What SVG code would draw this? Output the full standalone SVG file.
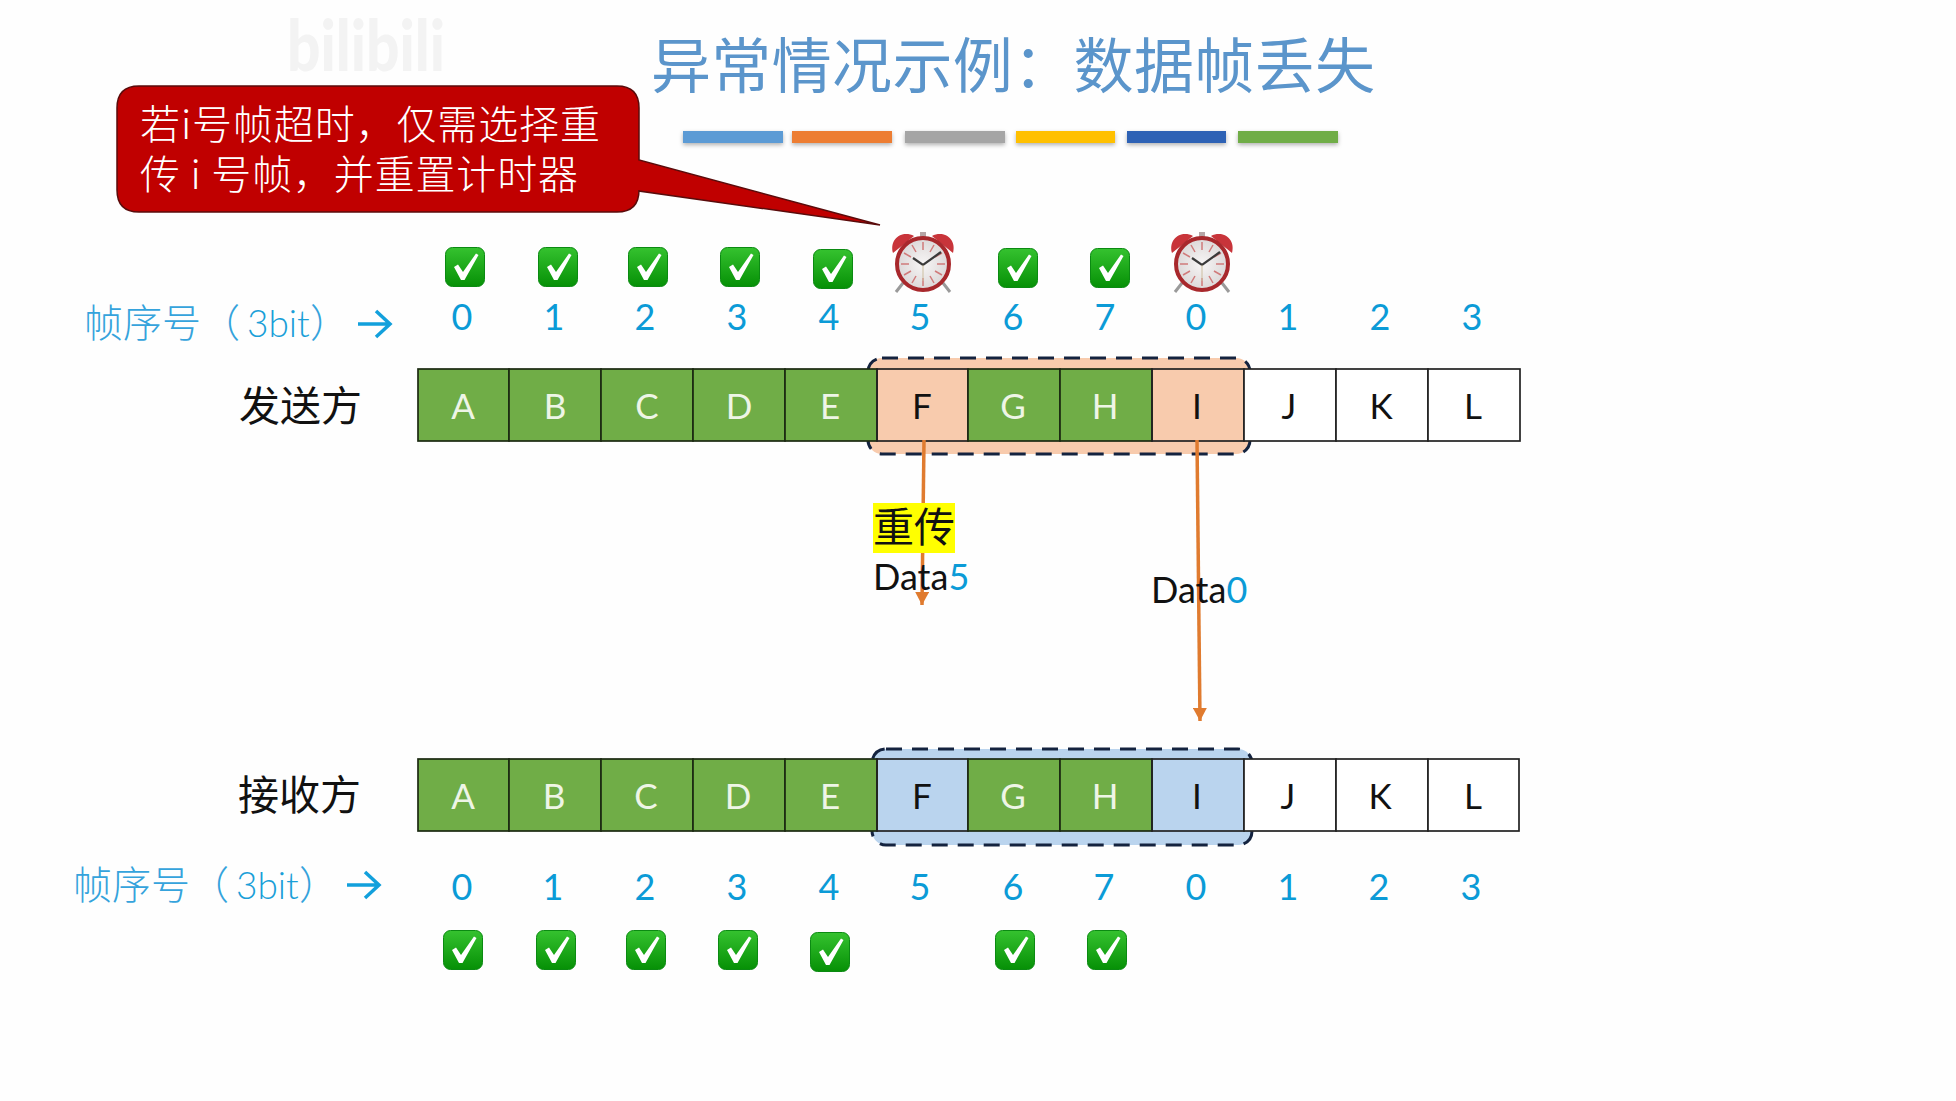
<svg xmlns="http://www.w3.org/2000/svg" width="1956" height="1101" viewBox="0 0 1956 1101">
<style>
text{font-family:Lato,"Noto Sans","Noto Sans CJK SC",sans-serif}
.cjk{font-family:"Noto Sans CJK SC","Noto Sans",sans-serif;font-weight:300}
.lat{font-family:Lato,"Noto Sans",sans-serif;fill:#1a9fd8}
.num{font-size:36px;fill:#0b9bd7;text-anchor:middle}
.cl{font-size:35px;text-anchor:middle;fill:#111}
.cw{font-size:35px;text-anchor:middle;fill:#eef5e6}
.green{fill:#70ad47;stroke:#1c2a12;stroke-width:1.700}
.white{fill:#fff;stroke:#222;stroke-width:1.700}
.clear{fill:none;stroke:#222;stroke-width:1.700}
.dash{stroke:#14233f;stroke-width:3;stroke-dasharray:16 10}
.arr{stroke:#e07b2f;stroke-width:3.500;fill:none}
.bar{filter:url(#sh)}
</style>
<defs>
<filter id="sh" x="-5%" y="-50%" width="110%" height="220%"><feDropShadow dx="0" dy="2" stdDeviation="2" flood-color="#000" flood-opacity=".3"/></filter>
<linearGradient id="gg" x1="0" y1="0" x2="0" y2="1"><stop offset="0" stop-color="#35c22f"/><stop offset="1" stop-color="#069006"/></linearGradient>
<radialGradient id="face"><stop offset="0" stop-color="#f7f5f5"/><stop offset="1" stop-color="#dcd8d8"/></radialGradient>
<symbol id="check" viewBox="0 0 40 40" overflow="visible">
<rect x="0.5" y="0.5" width="39" height="39" rx="7" fill="url(#gg)" stroke="#0b8a12" stroke-width="1"/>
<path d="M9 20 L13 17.500 L18 25 L31 6.500 L33.500 8 L19.500 33 L16 33 Z" fill="#fff"/>
</symbol>
<symbol id="clock" viewBox="-32 -32 64 64" overflow="visible">
<path d="M-20 20 L-27 29 M20 20 L27 29" stroke="#9a9a9a" stroke-width="3"/>
<path d="M-30 -10 C-34 -25 -20 -33 -9 -27 Z M30 -10 C34 -25 20 -33 9 -27 Z" fill="#c8343a"/>
<rect x="-3" y="-31" width="6" height="5" fill="#b5a5a5"/>
<circle r="26" cy="1" fill="url(#face)" stroke="#a8282c" stroke-width="4"/>
<path d="M0 -21V-13M0 15V23M-22 1H-14M14 1H22M-19 -10L-12 -6M19 -10L12 -6M-19 12L-12 8M19 12L12 8M-11 -18L-7 -11M11 -18L7 -11M-11 20L-7 13M11 20L7 13" stroke="#d07b7b" stroke-width="1.500"/>
<path d="M-10 -5 L0 2 L18 -11" stroke="#3a3a3a" stroke-width="2.200" fill="none"/>
<path d="M0 2V18" stroke="#cdbfa0" stroke-width="1"/>
</symbol>
<marker id="ah" markerUnits="userSpaceOnUse" markerWidth="14" markerHeight="14" refX="13" refY="7" orient="auto"><path d="M0 0L13 7L0 14Z" fill="#e07b2f"/></marker>
</defs>
<rect width="1956" height="1101" fill="#fefefe"/>
<text id="watermark" x="287" y="71" font-size="70" font-weight="900" fill="#f3f3f3" textLength="158" lengthAdjust="spacingAndGlyphs">bilibili</text>

<g id="title">
<text class="cjk" x="651" y="88" font-size="60" fill="#5b95cb" textLength="724" style="font-weight:400">异常情况示例：数据帧丢失</text>
<g class="bar"><rect x="683" y="131" width="100" height="12" fill="#5b9bd5"/><rect x="792" y="131" width="100" height="12" fill="#ed7d31"/><rect x="905" y="131" width="100" height="12" fill="#a5a5a5"/><rect x="1016" y="131" width="99" height="12" fill="#ffc000"/><rect x="1127" y="131" width="99" height="12" fill="#2f62b5"/><rect x="1238" y="131" width="100" height="12" fill="#70ad47"/></g>
</g>

<g id="callout">
<path d="M139 86H617Q639 86 639 108V160L880 225L639 191V190Q639 212 617 212H139Q117 212 117 190V108Q117 86 139 86Z" fill="#c00000" stroke="#5a0b0b" stroke-width="1.500"/>
<text class="cjk" x="140" y="139" font-size="40" fill="#fff" textLength="460">若i号帧超时，仅需选择重</text>
<text class="cjk" x="140" y="189" font-size="40" fill="#fff" textLength="438" xml:space="preserve">传 i 号帧，并重置计时器</text>
</g>

<g id="top-marks">
<use href="#check" x="445" y="247" width="40" height="40"/><use href="#check" x="538" y="247" width="40" height="40"/><use href="#check" x="628" y="247" width="40" height="40"/><use href="#check" x="720" y="247" width="40" height="40"/><use href="#check" x="813" y="249" width="40" height="40"/>
<use href="#clock" x="891" y="231" width="64" height="64"/>
<use href="#check" x="998" y="248" width="40" height="40"/><use href="#check" x="1090" y="248" width="40" height="40"/>
<use href="#clock" x="1170" y="231" width="64" height="64"/>
</g>

<g id="top-seq">
<text class="cjk" x="84" y="337" font-size="39" fill="#35a3dc" xml:space="preserve">帧序号（<tspan class="lat" x="247" font-size="37">3bit</tspan><tspan x="310">）</tspan></text>
<path d="M358 324H389M376 311L390 324L376 337" fill="none" stroke="#12a0dc" stroke-width="3.500"/>
<text class="num" x="462" y="330">0</text><text class="num" x="554" y="330">1</text><text class="num" x="645" y="330">2</text><text class="num" x="737" y="330">3</text><text class="num" x="829" y="330">4</text><text class="num" x="920" y="330">5</text><text class="num" x="1013" y="330">6</text><text class="num" x="1105" y="330">7</text><text class="num" x="1196" y="330">0</text><text class="num" x="1288" y="330">1</text><text class="num" x="1380" y="330">2</text><text class="num" x="1472" y="330">3</text>
</g>

<g id="sender">
<text class="cjk" x="239" y="421" font-size="41" fill="#111" style="font-weight:400">发送方</text>
<rect x="868" y="358" width="382" height="96" rx="14" fill="#f8cbad" class="dash"/>
<rect class="green" x="418" y="369" width="91" height="72"/><rect class="green" x="509" y="369" width="92" height="72"/><rect class="green" x="601" y="369" width="92" height="72"/><rect class="green" x="693" y="369" width="92" height="72"/><rect class="green" x="785" y="369" width="92" height="72"/>
<rect class="clear" x="877" y="369" width="91" height="72"/>
<rect class="green" x="968" y="369" width="92" height="72"/><rect class="green" x="1060" y="369" width="92" height="72"/>
<rect class="clear" x="1152" y="369" width="92" height="72"/>
<rect class="white" x="1244" y="369" width="92" height="72"/><rect class="white" x="1336" y="369" width="92" height="72"/><rect class="white" x="1428" y="369" width="92" height="72"/>
<text class="cw" x="463" y="419">A</text><text class="cw" x="555" y="419">B</text><text class="cw" x="647" y="419">C</text><text class="cw" x="739" y="419">D</text><text class="cw" x="830" y="419">E</text><text class="cl" x="922" y="419">F</text><text class="cw" x="1013" y="419">G</text><text class="cw" x="1105" y="419">H</text><text class="cl" x="1197" y="419">I</text><text class="cl" x="1289" y="419">J</text><text class="cl" x="1381" y="419">K</text><text class="cl" x="1473" y="419">L</text>
</g>

<g id="receiver">
<text class="cjk" x="238" y="810" font-size="41" fill="#111" style="font-weight:400">接收方</text>
<rect x="872" y="749" width="380" height="96" rx="14" fill="#bad4ee" class="dash"/>
<rect class="green" x="418" y="759" width="91" height="72"/><rect class="green" x="509" y="759" width="92" height="72"/><rect class="green" x="601" y="759" width="92" height="72"/><rect class="green" x="693" y="759" width="92" height="72"/><rect class="green" x="785" y="759" width="92" height="72"/>
<rect class="clear" x="877" y="759" width="91" height="72"/>
<rect class="green" x="968" y="759" width="92" height="72"/><rect class="green" x="1060" y="759" width="92" height="72"/>
<rect class="clear" x="1152" y="759" width="92" height="72"/>
<rect class="white" x="1244" y="759" width="92" height="72"/><rect class="white" x="1336" y="759" width="92" height="72"/><rect class="white" x="1428" y="759" width="91" height="72"/>
<text class="cw" x="463" y="809">A</text><text class="cw" x="554" y="809">B</text><text class="cw" x="646" y="809">C</text><text class="cw" x="738" y="809">D</text><text class="cw" x="830" y="809">E</text><text class="cl" x="922" y="809">F</text><text class="cw" x="1013" y="809">G</text><text class="cw" x="1105" y="809">H</text><text class="cl" x="1197" y="809">I</text><text class="cl" x="1288" y="809">J</text><text class="cl" x="1380" y="809">K</text><text class="cl" x="1473" y="809">L</text>
</g>

<g id="bottom-seq">
<text class="cjk" x="73" y="899" font-size="39" fill="#35a3dc" xml:space="preserve">帧序号（<tspan class="lat" x="236" font-size="37">3bit</tspan><tspan x="299">）</tspan></text>
<path d="M347 885H378M365 872L379 885L365 898" fill="none" stroke="#12a0dc" stroke-width="3.500"/>
<text class="num" x="462" y="900">0</text><text class="num" x="553" y="900">1</text><text class="num" x="645" y="900">2</text><text class="num" x="737" y="900">3</text><text class="num" x="829" y="900">4</text><text class="num" x="920" y="900">5</text><text class="num" x="1013" y="900">6</text><text class="num" x="1104" y="900">7</text><text class="num" x="1196" y="900">0</text><text class="num" x="1288" y="900">1</text><text class="num" x="1379" y="900">2</text><text class="num" x="1471" y="900">3</text>
</g>

<g id="bottom-marks">
<use href="#check" x="443" y="930" width="40" height="40"/><use href="#check" x="536" y="930" width="40" height="40"/><use href="#check" x="626" y="930" width="40" height="40"/><use href="#check" x="718" y="930" width="40" height="40"/><use href="#check" x="810" y="932" width="40" height="40"/><use href="#check" x="995" y="930" width="40" height="40"/><use href="#check" x="1087" y="930" width="40" height="40"/>
</g>

<g id="connectors">
<line class="arr" x1="924" y1="440" x2="922" y2="605" marker-end="url(#ah)"/>
<line class="arr" x1="1197" y1="440" x2="1200" y2="721" marker-end="url(#ah)"/>
</g>

<g id="labels">
<rect x="873" y="503" width="82" height="50" fill="#ffff00"/>
<text class="cjk" x="873" y="542" font-size="41" fill="#111" style="font-weight:400">重传</text>
<text x="873" y="590" font-size="36" fill="#111">Data<tspan fill="#0b9bd7">5</tspan></text>
<text x="1151" y="603" font-size="36" fill="#111">Data<tspan fill="#0b9bd7">0</tspan></text>
</g>
</svg>
